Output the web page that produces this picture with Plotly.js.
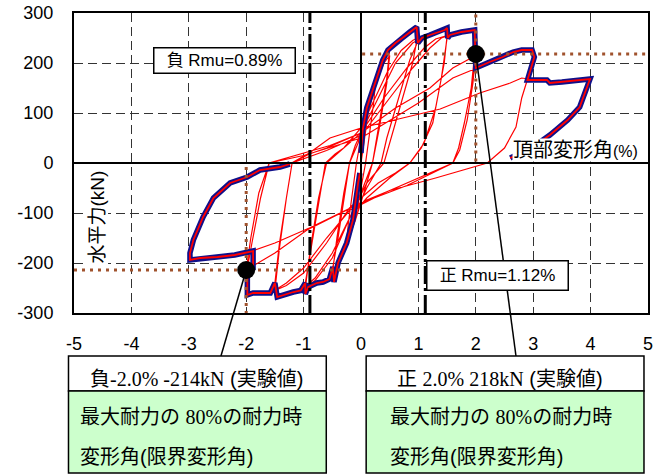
<!DOCTYPE html>
<html>
<head>
<meta charset="utf-8">
<script src="https://cdn.plot.ly/plotly-3.0.1.min.js"></script>
<style>html,body{margin:0;padding:0;background:#fff}</style>
</head>
<body>
<div id="chart" style="width:661px;height:475px"></div>
<script>
// Cyclic loading history: top drift angle (%) vs. horizontal force (kN), by amplitude stage
const stage025Drift = [0, 0.05, 0.12, 0.2, 0.25, 0.22, 0.15, 0.08, 0, -0.08, -0.18, -0.25, -0.22, -0.15, -0.08];
const stage025Load  = [0, 40, 95, 140, 158, 120, 60, 0, -50, -100, -140, -160, -120, -60, 0];

const stage05Drift = [0, 0.1, 0.2, 0.3, 0.38, 0.47, 0.5, 0.45, 0.33, 0.2, 0.05, -0.1, -0.25, -0.4, -0.47, -0.49, -0.4, -0.3, -0.2,
  -0.05, 0.1, 0.25, 0.4, 0.5, 0.45, 0.32, 0.2, 0, -0.2, -0.35, -0.5, -0.42, -0.3, -0.2];
const stage05Load = [50, 100, 142, 180, 206, 226, 230, 170, 90, 0, -60, -115, -160, -200, -238, -208, -150, -70, 0,
  40, 100, 160, 200, 215, 160, 70, 0, -60, -140, -190, -222, -150, -60, 0];

const stage10Drift = [-0.1, 0, 0.1, 0.2, 0.3, 0.45, 0.6, 0.85, 0.97, 0.98, 0.85, 0.63, 0.45, 0.35, 0.2, 0.1, -0.1, -0.3, -0.47, -0.55, -0.66, -0.77, -0.92, -0.97,
  -0.97, -0.85, -0.72, -0.62, -0.45, -0.3, 0, 0.2, 0.45, 0.7, 0.9, 0.98, 0.9, 0.7, 0.5, 0.4, 0.25, 0.1, -0.2, -0.5, -0.8, -0.97, -0.88, -0.74, -0.6];
const stage10Load = [35, 60, 90, 130, 175, 222, 240, 262, 272, 240, 206, 120, 50, 0, -30, -50, -100, -170, -222, -232, -238, -240, -248, -262,
  -240, -160, -70, 0, 18, 30, 70, 120, 180, 225, 245, 250, 200, 120, 40, 0, -20, -40, -110, -190, -235, -250, -170, -70, 0];

const stage15Drift = [-0.3, 0, 0.3, 0.6, 0.9, 1.06, 1.3, 1.46, 1.5, 1.5, 1.4, 1.25, 1.05, 0.85, 0.5, 0.1, -0.2, -0.5, -0.8, -1.05, -1.18, -1.46,
  -1.5, -1.42, -1.3, -1.2, -0.9, -0.6, 0, 0.4, 0.8, 1.1, 1.3, 1.5, 1.45, 1.3, 1.1, 0.85, 0.6, 0.3, -0.2, -0.6, -1.0, -1.3, -1.5, -1.42, -1.3, -1.2];
const stage15Load = [30, 60, 130, 200, 240, 250, 260, 266, 270, 250, 170, 80, 30, 0, -30, -70, -110, -180, -230, -255, -258, -268,
  -240, -160, -70, 0, 18, 30, 60, 130, 190, 230, 248, 255, 200, 110, 40, 0, -20, -40, -90, -160, -220, -245, -255, -170, -70, 0];

const stage20Drift = [-0.6, 0, 0.5, 0.9, 1.2, 1.4, 1.55, 1.8, 1.98, 2.0, 1.92, 1.8, 1.7, 1.6, 1.0, 0.4, -0.2, -0.6, -1.0, -1.3, -1.55, -1.88, -1.98,
  -1.98, -1.9, -1.75, -1.6, -1.0, -0.54, 0, 0.6, 1.2, 1.6, 1.95, 2.0, 1.95, 1.85, 1.72, 1.6, 0.8, 0, -0.94, -1.5, -2.0, -1.92, -1.78, -1.6];
const stage20Load = [25, 55, 130, 190, 230, 250, 256, 262, 266, 240, 150, 80, 30, 0, -30, -60, -95, -150, -210, -240, -258, -260, -264,
  -210, -160, -70, 0, 20, 35, 60, 110, 150, 190, 212, 218, 160, 86, 26, 0, -45, -80, -134, -180, -214, -150, -60, 0];

const stage30Drift = [-1.0, 0, 1.0, 1.6, 2.02, 2.24, 2.47, 2.65, 2.8, 2.98, 3.02, 2.9, 2.8, 2.7, 2.5, 2.2, 1.3, 0.5, 0.1, -0.9, -1.5, -1.9,
  -2.2, -2.5, -2.8, -2.98, -2.98, -2.92, -2.75, -2.57, -2.28, -1.98, -1.76, -1.41, -1.24];
const stage30Load = [15, 50, 120, 170, 190, 202, 212, 222, 226, 226, 212, 166, 130, 72, 30, 0, -30, -55, -74, -130, -160, -176,
  -184, -188, -190, -194, -180, -154, -108, -70, -40, -28, -14, -8, -2];

const stage40Drift = [-0.9, -0.54, 0, 0.7, 1.38, 2.07, 2.6, 2.8, 2.92, 3.24, 3.29, 3.5, 3.99, 3.81, 3.6, 3.29, 3.0, 2.6];
const stage40Load  = [20, 50, 70, 90, 108, 140, 160, 170, 168, 166, 160, 162, 168, 112, 86, 56, 32, 10];

// Skeleton (first-cycle) curves, positive and negative
const skelPosDrift = [0, 0.03, 0.1, 0.21, 0.3, 0.38, 0.47, 0.6, 0.72, 0.85, 0.97, 0.99, 1.06, 1.2, 1.35, 1.46, 1.5, 1.51, 1.55, 1.75,
  1.98, 2.0, 2.24, 2.47, 2.65, 2.8, 2.98, 3.02, 2.9, 3.24, 3.29, 3.5, 3.99, 3.81, 3.6, 3.29, 3.0, 2.6];
const skelPosLoad = [20, 66, 110, 146, 180, 206, 226, 240, 250, 262, 272, 240, 250, 256, 262, 266, 270, 250, 256, 262,
  266, 190, 202, 212, 222, 226, 226, 212, 166, 166, 160, 162, 168, 112, 86, 56, 32, 10];
const skelNegDrift = [-0.02, -0.05, -0.14, -0.25, -0.4, -0.47, -0.49, -0.55, -0.66, -0.77, -0.92, -0.97, -0.97, -1.05, -1.18, -1.46, -1.5, -1.58, -1.88, -1.98,
  -1.98, -1.88, -1.88, -2.2, -2.5, -2.8, -2.98, -2.98, -2.92, -2.75, -2.57, -2.28, -1.98, -1.76, -1.41, -1.24];
const skelNegLoad = [-20, -40, -114, -160, -200, -238, -208, -232, -238, -240, -248, -262, -240, -255, -258, -268, -240, -260, -260, -264,
  -214, -210, -176, -184, -188, -190, -194, -180, -154, -108, -70, -40, -28, -14, -8, -2];

// Limit deformation points (80% of peak strength), negative / positive
const limitDrift = [-2.0, 2.0];
const limitLoad = [-214, 218];
// Ultimate drift angles Rmu (%), negative / positive
const rmuDrift = [-0.89, 1.12];

// Axis ticks
const xTicks = [-5, -4, -3, -2, -1, 0, 1, 2, 3, 4, 5];
const xTickText = ['-5', '-4', '-3', '-2', '-1', '0', '1', '2', '3', '4', '5'];
const yTicks = [-300, -200, -100, 0, 100, 200, 300];
const yTickText = ['-300', '-200', '-100', '0', '100', '200', '300'];

const xRange = [-5, 5];
const yRange = [-300, 300];

const historyDrift = [].concat(stage025Drift, stage05Drift, stage10Drift, stage15Drift, stage20Drift, stage30Drift, stage40Drift);
const historyLoad  = [].concat(stage025Load, stage05Load, stage10Load, stage15Load, stage20Load, stage30Load, stage40Load);

const SANS = '"Liberation Sans", Arial, "Noto Sans CJK JP", sans-serif';
const SERIF = 'Liberation Serif';
const BROWN = '#a0522d';

function paperX(v) { return (v - xRange[0]) / (xRange[1] - xRange[0]); }
function paperY(v) { return (v - yRange[0]) / (yRange[1] - yRange[0]); }

const traces = [
  { x: historyDrift, y: historyLoad, mode: 'lines', line: { color: '#ff0000', width: 1.2 }, hoverinfo: 'skip' },
  { x: skelPosDrift, y: skelPosLoad, mode: 'lines', line: { color: '#10108a', width: 5.5 }, hoverinfo: 'skip' },
  { x: skelNegDrift, y: skelNegLoad, mode: 'lines', line: { color: '#10108a', width: 5.5 }, hoverinfo: 'skip' },
  { x: skelPosDrift, y: skelPosLoad, mode: 'lines', line: { color: '#ff0000', width: 1.8 }, hoverinfo: 'skip' },
  { x: skelNegDrift, y: skelNegLoad, mode: 'lines', line: { color: '#ff0000', width: 1.8 }, hoverinfo: 'skip' },
  // 80% strength reference lines
  { x: [0.02, xRange[1]], y: [limitLoad[1], limitLoad[1]], mode: 'lines', line: { color: BROWN, width: 3, dash: '3px,5px' } },
  { x: [limitDrift[1], limitDrift[1]], y: [3, yRange[1]], mode: 'lines', line: { color: BROWN, width: 3, dash: '3px,5px' } },
  { x: [xRange[0], -0.05], y: [limitLoad[0], limitLoad[0]], mode: 'lines', line: { color: BROWN, width: 3, dash: '3px,5px' } },
  { x: [limitDrift[0], limitDrift[0]], y: [-8, yRange[0]], mode: 'lines', line: { color: BROWN, width: 3, dash: '3px,5px' } },
  // Limit points
  { x: limitDrift, y: limitLoad, mode: 'markers', marker: { color: '#000', size: 18 }, cliponaxis: false }
];

const boxTop = -0.1433, boxMid = -0.26, boxBot = -0.5333;
const leftBox = [-0.0096, 0.4395], rightBox = [0.509, 0.993];

const shapes = [
  { type: 'line', xref: 'x', yref: 'paper', x0: 0, x1: 0, y0: 0, y1: 1, layer: 'above', line: { color: '#000', width: 2 } },
  { type: 'line', xref: 'paper', yref: 'y', x0: 0, x1: 1, y0: 0, y1: 0, layer: 'above', line: { color: '#000', width: 2 } },
  { type: 'line', xref: 'x', yref: 'paper', x0: rmuDrift[0], x1: rmuDrift[0], y0: 0, y1: 1, layer: 'above', line: { color: '#000', width: 3, dash: '18px,4px,3px,4px' } },
  { type: 'line', xref: 'x', yref: 'paper', x0: rmuDrift[1], x1: rmuDrift[1], y0: 0, y1: 1, layer: 'above', line: { color: '#000', width: 3, dash: '18px,4px,3px,4px' } },
  // leader lines from limit points to the boxes
  { type: 'line', xref: 'paper', yref: 'paper', x0: paperX(limitDrift[0]), y0: paperY(limitLoad[0]), x1: paperX(-2.44), y1: boxTop, layer: 'above', line: { color: '#000', width: 1.5 } },
  { type: 'line', xref: 'paper', yref: 'paper', x0: paperX(limitDrift[1]), y0: paperY(limitLoad[1]), x1: paperX(2.70), y1: boxTop, layer: 'above', line: { color: '#000', width: 1.5 } },
  // boxes
  { type: 'rect', xref: 'paper', yref: 'paper', x0: leftBox[0], x1: leftBox[1], y0: boxMid, y1: boxTop, fillcolor: '#fff', line: { color: '#000', width: 1.5 } },
  { type: 'rect', xref: 'paper', yref: 'paper', x0: leftBox[0], x1: leftBox[1], y0: boxBot, y1: boxMid, fillcolor: '#ccffcc', line: { color: '#000', width: 1.5 } },
  { type: 'rect', xref: 'paper', yref: 'paper', x0: rightBox[0], x1: rightBox[1], y0: boxMid, y1: boxTop, fillcolor: '#fff', line: { color: '#000', width: 1.5 } },
  { type: 'rect', xref: 'paper', yref: 'paper', x0: rightBox[0], x1: rightBox[1], y0: boxBot, y1: boxMid, fillcolor: '#ccffcc', line: { color: '#000', width: 1.5 } }
];

const serif = s => '<span style="font-family:' + SERIF + '">' + s + '</span>';
const negHead = '負' + serif(limitDrift[0].toFixed(1) + '% ' + limitLoad[0] + 'kN') + ' (実験値)';
const posHead = '正 ' + serif(limitDrift[1].toFixed(1) + '% ' + limitLoad[1] + 'kN') + ' (実験値)';
const line1 = '最大耐力の ' + serif('80%') + 'の耐力時';
const line2 = '変形角(限界変形角)';

const txt = (x, y, text, extra) => Object.assign({
  xref: 'paper', yref: 'paper', x: x, y: y, text: text, showarrow: false,
  xanchor: 'center', yanchor: 'middle', font: { family: SANS, size: 20, color: '#000' }
}, extra || {});

const annotations = [
  { xref: 'x', yref: 'y', x: -2.385, y: 205, xanchor: 'center', yanchor: 'middle', text: '負 Rmu=' + Math.abs(rmuDrift[0]).toFixed(2) + '%', showarrow: false,
    font: { family: SANS, size: 17, color: '#000' }, bgcolor: '#fff', bordercolor: '#000', borderwidth: 1.5, borderpad: 2, width: 136, height: 20 },
  { xref: 'x', yref: 'y', x: 2.385, y: -224, xanchor: 'center', yanchor: 'middle', text: '正 Rmu=' + rmuDrift[1].toFixed(2) + '%', showarrow: false,
    font: { family: SANS, size: 17, color: '#000' }, bgcolor: '#fff', bordercolor: '#000', borderwidth: 1.5, borderpad: 2, width: 136, height: 24 },
  txt(0.873, 0.543, '頂部変形角<span style="font-size:16px">(%)</span>', { bgcolor: '#fff', borderpad: 0 }),
  txt(0.041, 0.32, '水平力(kN)', { textangle: -90, bgcolor: '#fff', borderpad: 0, font: { family: SANS, size: 19, color: '#000' } }),
  txt(0.214, -0.22, negHead),
  txt(0.742, -0.22, posHead),
  txt(0.0078, -0.347, line1, { xanchor: 'left' }),
  txt(0.0078, -0.48, line2, { xanchor: 'left' }),
  txt(0.547, -0.347, line1, { xanchor: 'left' }),
  txt(0.547, -0.48, line2, { xanchor: 'left' })
];

const axisCommon = {
  showline: true, mirror: true, linecolor: '#000', linewidth: 2,
  showgrid: true, gridcolor: '#333', gridwidth: 1, griddash: '9px,5px',
  zeroline: false, ticks: '', tickfont: { family: SANS, size: 18, color: '#000' }, fixedrange: true
};

const layout = {
  width: 661, height: 475,
  margin: { l: 74, r: 13, t: 13, b: 162 },
  paper_bgcolor: '#fff', plot_bgcolor: '#fff',
  showlegend: false,
  xaxis: Object.assign({}, axisCommon, { range: xRange, tickmode: 'array', tickvals: xTicks, ticktext: xTickText, ticklabelstandoff: 13 }),
  yaxis: Object.assign({}, axisCommon, { range: yRange, tickmode: 'array', tickvals: yTicks, ticktext: yTickText, ticklabelstandoff: 15 }),
  shapes: shapes,
  annotations: annotations
};

Plotly.newPlot('chart', traces, layout, { displayModeBar: false, staticPlot: true });
</script>
</body>
</html>
